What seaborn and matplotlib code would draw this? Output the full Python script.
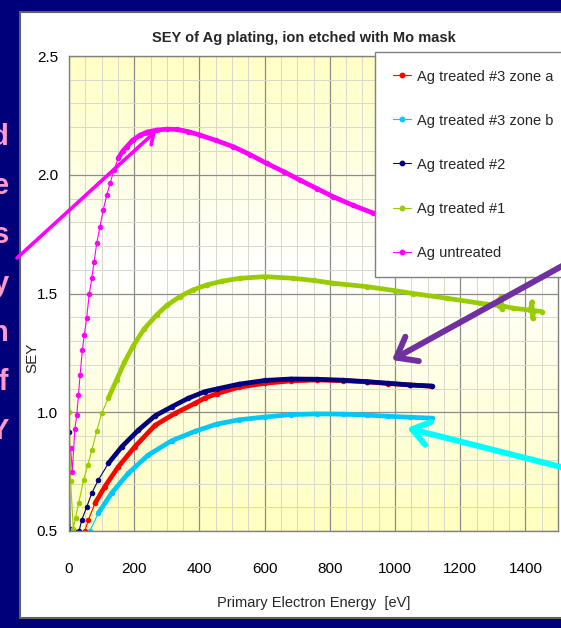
import matplotlib
matplotlib.use("Agg")
import matplotlib.pyplot as plt
import numpy as np
import seaborn as sns
from matplotlib.lines import Line2D
from matplotlib.patches import Rectangle, FancyArrowPatch
from matplotlib.colors import LinearSegmentedColormap
from matplotlib.ticker import MultipleLocator

# series: energy [eV] and SEY
labels = ["Ag treated #3 zone a", "Ag treated #3 zone b", "Ag treated #2",
          "Ag treated #1", "Ag untreated"]
colors = ["#ff0000", "#00c8f8", "#000080", "#99cc00", "#ff00ff"]

e_zone_a = [49, 59, 80, 110, 151, 202, 264, 325, 387, 417, 453, 520, 601, 680,
            760, 840, 913, 980, 1046, 1110]
sey_zone_a = [0.50, 0.546, 0.617, 0.687, 0.77, 0.855, 0.945, 0.995, 1.038, 1.06,
              1.078, 1.105, 1.122, 1.132, 1.136, 1.133, 1.128, 1.121, 1.115, 1.11]

e_zone_b = [64, 90, 131, 182, 243, 315, 387, 453, 520, 601, 680, 760, 840, 913,
            980, 1046, 1112]
sey_zone_b = [0.50, 0.575, 0.66, 0.743, 0.82, 0.88, 0.92, 0.95, 0.968, 0.98,
              0.99, 0.993, 0.992, 0.988, 0.983, 0.979, 0.975]

e_t2 = [0, 3, 31, 39, 54, 70, 90, 121, 162, 213, 264, 315, 366, 417, 453, 520,
        601, 680, 760, 840, 913, 980, 1046, 1112]
sey_t2 = [0.918, 0.51, 0.50, 0.546, 0.60, 0.66, 0.715, 0.785, 0.855, 0.925,
          0.985, 1.023, 1.059, 1.087, 1.098, 1.118, 1.134, 1.14, 1.139, 1.135,
          1.129, 1.122, 1.115, 1.11]

e_t1 = [0, 5, 13, 20, 30, 45, 58, 70, 85, 100, 121, 146, 170, 197, 230, 269,
        300, 340, 380, 422, 470, 524, 601, 688, 750, 811, 913, 1000, 1056, 1158,
        1261, 1320, 1325, 1328, 1332, 1363, 1415, 1420, 1422, 1426, 1450]
sey_t1 = [1.00, 0.71, 0.51, 0.556, 0.62, 0.715, 0.78, 0.84, 0.92, 0.995, 1.06,
          1.136, 1.21, 1.28, 1.35, 1.41, 1.45, 1.487, 1.515, 1.536, 1.552, 1.564,
          1.571, 1.564, 1.555, 1.543, 1.529, 1.512, 1.50, 1.48, 1.459, 1.449,
          1.485, 1.435, 1.447, 1.438, 1.43, 1.465, 1.395, 1.428, 1.424]

e_untr = [5, 10, 18, 24, 29, 34, 41, 47, 54, 62, 70, 77, 85, 95, 105, 116, 126,
          138, 151, 165, 177, 195, 218, 240, 269, 300, 330, 365, 402, 450, 504,
          555, 606, 660, 709, 760, 811, 870, 934, 960]
sey_untr = [0.85, 0.75, 0.93, 0.99, 1.073, 1.157, 1.262, 1.325, 1.395, 1.497,
            1.564, 1.634, 1.711, 1.781, 1.852, 1.915, 1.964, 2.02, 2.069, 2.10,
            2.118, 2.145, 2.167, 2.18, 2.188, 2.192, 2.191, 2.182, 2.167, 2.145,
            2.118, 2.085, 2.048, 2.012, 1.977, 1.942, 1.907, 1.872, 1.838, 1.825]

energies = [e_zone_a, e_zone_b, e_t2, e_t1, e_untr]
yields = [sey_zone_a, sey_zone_b, sey_t2, sey_t1, sey_untr]
dense_from = [70, 70, 100, 120, 150]   # where the markers merge into a band

sns.set_theme(style="white")
plt.rcParams["font.family"] = ["Liberation Sans", "DejaVu Sans"]

W, H = 561, 628
fig = plt.figure(figsize=(W / 100, H / 100), dpi=100, facecolor="#00007a")


def fx(px):
    return px / W


def fy(py):
    return 1 - py / H


# white chart panel
fig.add_artist(Rectangle((fx(20), fy(618)), fx(600), (618 - 12) / H,
                         transform=fig.transFigure, facecolor="white",
                         edgecolor="#606060", lw=1.5, zorder=-5))

# slide text on the left, cut off by the picture edge as in the original
for i, t in enumerate(["d", "e", "s", "y", "h", "of", "Y"]):
    fig.text(fx(9), fy(145 + 49 * i), t, ha="right", va="baseline",
             fontsize=21, fontweight="bold", color="#ff99cc")

ax = fig.add_axes([fx(69), fy(531), (558 - 69) / W, (531 - 56) / H])

cmap = LinearSegmentedColormap.from_list(
    "bg", [(0, "#ffffc0"), (0.55, "#ffffff"), (1, "#ffffc4")])
ax.imshow(np.linspace(0, 1, 200).reshape(-1, 1), extent=[0, 1, 0, 1],
          transform=ax.transAxes, cmap=cmap, origin="lower", aspect="auto",
          zorder=-1)

for e, s, c, cut in zip(energies, yields, colors, dense_from):
    sns.lineplot(x=e, y=s, color=c, lw=0.8, marker="o", markersize=3.2,
                 markeredgecolor=c, sort=False, estimator=None, ax=ax)
    e_arr, s_arr = np.array(e), np.array(s)
    keep = e_arr >= cut
    sns.lineplot(x=e_arr[keep], y=s_arr[keep], color=c, lw=3.4, sort=False,
                 estimator=None, ax=ax)

ax.set_xlim(0, 1500)
ax.set_ylim(0.5, 2.5)
ax.set_xticks(range(0, 1401, 200))
ax.set_yticks([0.5, 1.0, 1.5, 2.0, 2.5])
ax.set_yticklabels(["0.5", "1.0", "1.5", "2.0", "2.5"])
ax.xaxis.set_minor_locator(MultipleLocator(50))
ax.yaxis.set_minor_locator(MultipleLocator(0.1))
ax.set_axisbelow(True)
ax.grid(which="major", color="#8c8c8c", lw=0.9)
ax.grid(which="minor", color="#d8d8cc", lw=0.7)
ax.tick_params(which="minor", length=0)
ax.tick_params(axis="both", which="major", labelsize=11, colors="#808080",
               labelcolor="black", length=5, width=0.9, direction="out")
ax.tick_params(axis="x", pad=17)
ax.tick_params(axis="y", pad=3)
for sp in ax.spines.values():
    sp.set_color("#808080")
    sp.set_linewidth(1)

ax.set_xlabel("Primary Electron Energy  [eV]", fontsize=10.5)
ax.xaxis.set_label_coords(0.5, -0.152)
ax.xaxis.label.set_va("center")
ax.set_ylabel("SEY", fontsize=11)
ax.yaxis.set_label_coords(-0.074, 0.364)
ax.yaxis.label.set_va("center")

fig.text(fx(304), fy(38), "SEY of Ag plating, ion etched with Mo mask",
         ha="center", va="center", fontsize=10.5, fontweight="bold")

handles = [Line2D([], [], color=c, lw=0.8, marker="o", markersize=3.2) for c in colors]
leg = ax.legend(handles, labels, loc="upper left", mode="expand",
                bbox_to_anchor=(fx(375), fy(275), fx(230), (275 - 52) / H),
                bbox_transform=fig.transFigure,
                frameon=True, fancybox=False, edgecolor="#808080", framealpha=1,
                fontsize=10.5, labelspacing=2.06, borderpad=1.2, handlelength=1.25,
                handletextpad=0.45, borderaxespad=0)
leg.get_frame().set_linewidth(1)

# slide arrows drawn over the chart
arrows = [((17, 258), (156, 131), "#ff00ff", 2.6, 0.7, 0.5),
          ((620, 234), (392, 360), "#7030a0", 4.3, 1.3, 1.0),
          ((620, 482), (407, 428), "#00ffff", 4.3, 1.2, 0.85)]
for (x0, y0), (x1, y1), c, lw, hl, hw in arrows:
    fig.add_artist(FancyArrowPatch((fx(x0), fy(y0)), (fx(x1), fy(y1)),
                                   transform=fig.transFigure,
                                   arrowstyle=f"->,head_length={hl},head_width={hw}",
                                   mutation_scale=10, lw=lw, color=c,
                                   shrinkA=0, shrinkB=0, zorder=10))

fig.savefig("out.png", dpi=100, facecolor=fig.get_facecolor())
